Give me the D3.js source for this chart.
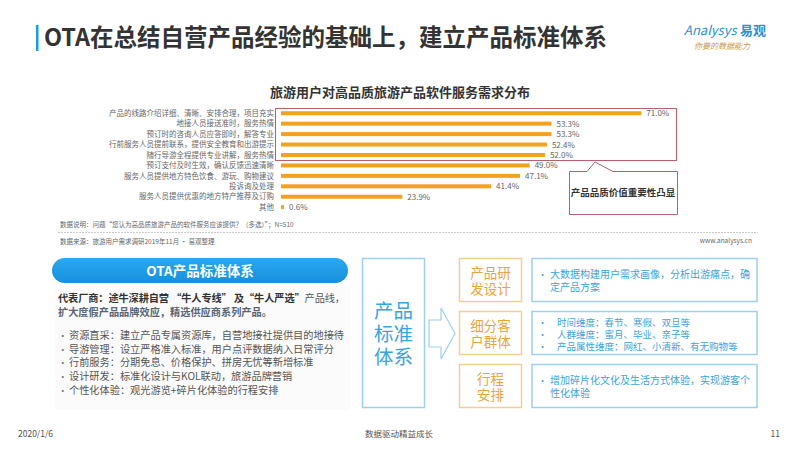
<!DOCTYPE html>
<html>
<head>
<meta charset="utf-8">
<script src="https://cdn.jsdelivr.net/npm/d3@7"></script>
<style>
  body { margin: 0; background: #fff; }
  svg { display: block; font-family: "Noto Sans CJK SC", "Noto Sans", sans-serif; }
</style>
</head>
<body>
<div class="container"></div>
<script>
// data
const categories = [
  '产品的线路介绍详细、清晰、安排合理，项目充实',
  '地接人员接送准时，服务热情',
  '预订时的咨询人员应答即时，解答专业',
  '行前服务人员提前联系，提供安全教育和出游提示',
  '随行导游全程提供专业讲解，服务热情',
  '预订支付及时生效，确认反馈迅速清晰',
  '服务人员提供地方特色饮食、游玩、购物建议',
  '投诉询及处理',
  '服务人员提供优惠的地方特产推荐及订购',
  '其他'
];
const values = [71.0, 53.3, 53.3, 52.4, 52.0, 49.0, 47.1, 41.4, 23.9, 0.6];

const bulletItems = [
  '资源直采：建立产品专属资源库，自营地接社提供目的地接待',
  '导游管理：设立严格准入标准，用户点评数据纳入日常评分',
  '行前服务：分期免息、价格保护、拼房无忧等新增标准',
  '设计研发：标准化设计与KOL联动，旅游品牌营销',
  '个性化体验：观光游览+碎片化体验的行程安排'
];
const dimensionNames = [['产品研', '发设计'], ['细分客', '户群体'], ['行程', '安排']];
const dimensionNotes = [
  [['大数据构建用户需求画像，分析出游痛点，确', '定产品方案']],
  [['时间维度：春节、寒假、双旦等'], ['人群维度：蜜月、毕业、亲子等'], ['产品属性维度：网红、小清新、有无购物等']],
  [['增加碎片化文化及生活方式体验，实现游客个', '性化体验']]
];

// config
const config = {
  color: {
    orange: '#f4a11d',
    blue: '#1d9be2',
    lightBlue: '#9fd0ea',
    textBlue: '#3ba3dc',
    boxOrange: '#f3cf92',
    textOrange: '#eba43c',
    red: '#b9606c',
    dark: '#333',
    gray: '#666'
  }
};

const svg = d3.select('.container').append('svg')
  .attr('width', 800)
  .attr('height', 450);

// header
svg.append('rect').attr('x', 36).attr('y', 25).attr('width', 2.5).attr('height', 26).attr('fill', config.color.blue);
svg.append('text').attr('x', 44).attr('y', 46)
  .attr('font-size', 23.5).attr('font-weight', 'bold').attr('fill', config.color.dark)
  .text('OTA在总结自营产品经验的基础上，建立产品标准体系');

svg.append('text').attr('x', 684).attr('y', 35)
  .attr('font-size', 13).attr('font-style', 'italic').attr('fill', '#2f8fd0')
  .text('Analysys');
svg.append('text').attr('x', 740).attr('y', 35)
  .attr('font-size', 13).attr('font-weight', 'bold').attr('fill', '#2f8fd0')
  .text('易观');
svg.append('text').attr('x', 694).attr('y', 49)
  .attr('font-size', 8).attr('font-style', 'italic').attr('fill', '#c99a3e')
  .text('你要的数据能力');

// chart title
svg.append('text').attr('x', 400).attr('y', 97).attr('text-anchor', 'middle')
  .attr('font-size', 13).attr('font-weight', 'bold').attr('fill', config.color.dark)
  .text('旅游用户对高品质旅游产品软件服务需求分布');

// scales
const x = d3.scaleLinear().domain([0, 80]).range([281, 687]);
const y = d3.scaleBand().domain(categories).range([108, 212.4]);

const rows = categories.map((c, i) => ({ label: c, value: values[i] }));

svg.append('g').selectAll('rect')
  .data(rows)
  .enter().append('rect')
  .attr('x', x(0))
  .attr('y', d => y(d.label) + y.bandwidth() / 2 - 2)
  .attr('width', d => x(d.value) - x(0))
  .attr('height', 4)
  .attr('fill', config.color.orange);

svg.append('g').selectAll('text')
  .data(rows)
  .enter().append('text')
  .attr('x', x(0) - 7)
  .attr('y', d => y(d.label) + y.bandwidth() / 2 + 2.7)
  .attr('text-anchor', 'end')
  .attr('font-size', 7.5)
  .attr('fill', config.color.gray)
  .text(d => d.label);

svg.append('g').selectAll('text')
  .data(rows)
  .enter().append('text')
  .attr('x', d => x(d.value) + 5)
  .attr('y', d => y(d.label) + y.bandwidth() / 2 + 3)
  .attr('font-size', 8)
  .attr('fill', config.color.gray)
  .text(d => d.value.toFixed(1) + '%');

// highlight box and callout
svg.append('rect').attr('x', 275.5).attr('y', 108.5).attr('width', 401).attr('height', 52)
  .attr('fill', 'none').attr('stroke', config.color.red).attr('stroke-width', 1);
svg.append('path')
  .attr('d', 'M569.5,171.5 L587,171.5 L595,162 L613,171.5 L677.5,171.5 L677.5,214.5 L569.5,214.5 Z')
  .attr('fill', '#fff').attr('stroke', config.color.red).attr('stroke-width', 1);
svg.append('text').attr('x', 623).attr('y', 196).attr('text-anchor', 'middle')
  .attr('font-size', 9.5).attr('font-weight', 'bold').attr('fill', config.color.dark)
  .text('产品品质价值重要性凸显');

// notes
svg.append('text').attr('x', 60).attr('y', 227).attr('font-size', 6.5).attr('fill', config.color.gray)
  .text('数据说明：问题“您认为高品质旅游产品的软件服务应该提供？（多选）”；N=510');
svg.append('line').attr('x1', 58).attr('x2', 758).attr('y1', 232.5).attr('y2', 232.5)
  .attr('stroke', '#ccc').attr('stroke-dasharray', '2,1');
svg.append('text').attr('x', 60).attr('y', 244).attr('font-size', 6.5).attr('fill', config.color.gray)
  .text('数据来源：旅游用户需求调研2019年11月 · 易观整理');
svg.append('text').attr('x', 752).attr('y', 243).attr('text-anchor', 'end').attr('font-size', 6.5).attr('fill', config.color.gray)
  .text('www.analysys.cn');

// bottom left panel
svg.append('rect').attr('x', 55).attr('y', 286).attr('width', 295).attr('height', 124).attr('fill', '#fbfbfb');

const grad = svg.append('defs').append('linearGradient').attr('id', 'pill').attr('x1', 0).attr('x2', 0).attr('y1', 0).attr('y2', 1);
grad.append('stop').attr('offset', '0%').attr('stop-color', '#2aa8f0');
grad.append('stop').attr('offset', '100%').attr('stop-color', '#1690dc');
svg.append('rect').attr('x', 52).attr('y', 258).attr('width', 296).attr('height', 25).attr('rx', 12.5)
  .attr('fill', 'url(#pill)');
svg.append('text').attr('x', 200).attr('y', 275.5).attr('text-anchor', 'middle')
  .attr('font-size', 13.5).attr('font-weight', 'bold').attr('fill', '#fff')
  .text('OTA产品标准体系');

const vendor = svg.append('text').attr('x', 58).attr('y', 302).attr('font-size', 10.2)
  .attr('textLength', 287).attr('lengthAdjust', 'spacing');
vendor.append('tspan').attr('font-weight', 'bold').attr('fill', config.color.dark)
  .text('代表厂商：途牛深耕自营 “牛人专线” 及“牛人严选”');
vendor.append('tspan').attr('fill', '#555').text('产品线，');
svg.append('text').attr('x', 58).attr('y', 315.5).attr('font-size', 10.2).attr('font-weight', 'bold').attr('fill', '#5a6572')
  .text('扩大度假产品品牌效应，精选供应商系列产品。');

const bullets = svg.append('g').selectAll('g')
  .data(bulletItems)
  .enter().append('g')
  .attr('transform', (d, i) => `translate(0, ${339 + i * 13.7})`);
bullets.append('text').attr('x', 58).attr('font-size', 9.5).attr('fill', '#777').text('•');
bullets.append('text').attr('x', 69).attr('font-size', 10.2).attr('fill', '#555').text(d => d);

// middle: product standard system
svg.append('rect').attr('x', 362.5).attr('y', 258.5).attr('width', 62).attr('height', 149)
  .attr('fill', 'none').attr('stroke', config.color.lightBlue).attr('stroke-width', 1.5);
svg.append('g').selectAll('text')
  .data(['产品', '标准', '体系'])
  .enter().append('text')
  .attr('x', 393.5)
  .attr('y', (d, i) => 318 + i * 23)
  .attr('text-anchor', 'middle')
  .attr('font-size', 19.5)
  .attr('fill', config.color.textBlue)
  .text(d => d);

svg.append('path')
  .attr('d', 'M429,320 L441,320 L441,308 L455,333.5 L441,359 L441,347 L429,347 Z')
  .attr('fill', '#fff').attr('stroke', config.color.lightBlue).attr('stroke-width', 1.2);

const rowTops = [258.5, 311.5, 364.5];
const dims = svg.append('g').selectAll('g')
  .data(dimensionNames)
  .enter().append('g')
  .attr('transform', (d, i) => `translate(0, ${rowTops[i]})`);
dims.append('rect').attr('x', 459.5).attr('width', 62).attr('height', 43)
  .attr('fill', 'none').attr('stroke', config.color.boxOrange).attr('stroke-width', 1.5);
dims.each(function (d) {
  d3.select(this).selectAll('text')
    .data(d)
    .enter().append('text')
    .attr('x', 490.5)
    .attr('y', (t, j) => 19 + j * 16.5)
    .attr('text-anchor', 'middle')
    .attr('font-size', 13.5)
    .attr('fill', config.color.textOrange)
    .text(t => t);
});

const notes = svg.append('g').selectAll('g')
  .data(dimensionNotes)
  .enter().append('g')
  .attr('transform', (d, i) => `translate(0, ${rowTops[i]})`);
notes.append('rect').attr('x', 532).attr('width', 225).attr('height', 43)
  .attr('fill', 'none').attr('stroke', config.color.lightBlue).attr('stroke-width', 1.5);
notes.each(function (d) {
  const g = d3.select(this);
  const multi = d.length > 1;
  const lineGap = multi ? 12 : 13.5;
  const firstY = multi ? 14 : 19;
  const size = multi ? 9.5 : 10;
  let line = 0;
  d.forEach(item => {
    item.forEach((t, j) => {
      if (j === 0) {
        g.append('text').attr('x', 538).attr('y', firstY + line * lineGap)
          .attr('font-size', 9).attr('fill', config.color.textBlue).text('•');
      }
      g.append('text').attr('x', multi ? 557 : 550).attr('y', firstY + line * lineGap)
        .attr('font-size', size).attr('fill', config.color.textBlue).text(t);
      line++;
    });
  });
});

// footer
svg.append('text').attr('x', 18).attr('y', 437).attr('font-size', 8.5).attr('fill', '#555').text('2020/1/6');
svg.append('text').attr('x', 399).attr('y', 437).attr('text-anchor', 'middle').attr('font-size', 8.5).attr('fill', '#555').text('数据驱动精益成长');
svg.append('text').attr('x', 780).attr('y', 437).attr('text-anchor', 'end').attr('font-size', 8.5).attr('fill', '#555').text('11');
</script>
</body>
</html>
